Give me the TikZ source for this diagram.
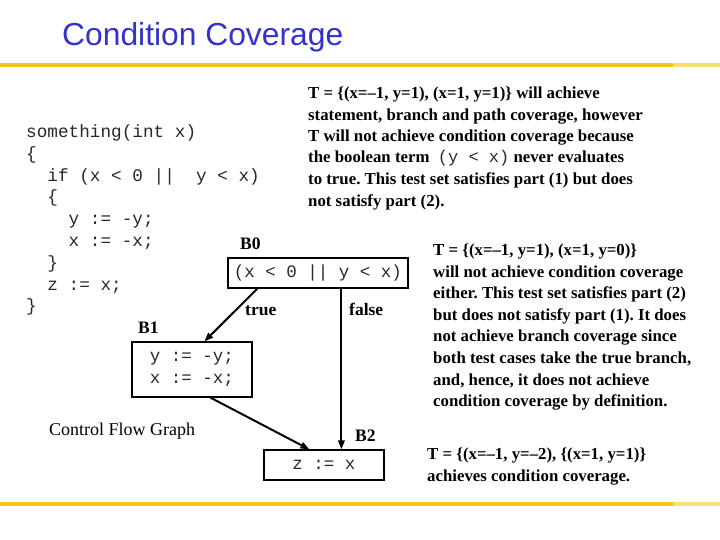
\documentclass[tikz,border=0pt]{standalone}
\usepackage{fontspec}
\setmainfont{Liberation Serif}
\newfontfamily\arialf{Liberation Sans}
\newfontfamily\monof{Liberation Mono}
\usetikzlibrary{arrows.meta}
\frenchspacing
\definecolor{titleblue}{RGB}{51,51,204}
\definecolor{gold}{RGB}{242,196,24}
\definecolor{lightgold}{RGB}{250,222,120}
\definecolor{codegray}{RGB}{40,40,40}
\tikzset{
  codeline/.style={anchor=base west, inner sep=0pt, font=\monof\fontsize{17.7}{21}\selectfont, text=codegray},
  para/.style={anchor=base west, inner sep=0pt, font=\bfseries\fontsize{16.8}{21}\selectfont},
  blabel/.style={anchor=base west, inner sep=0pt, font=\bfseries\fontsize{17.5}{21}\selectfont},
  box/.style={draw, line width=1.2pt, inner sep=0pt, font=\monof\fontsize{17.5}{22}\selectfont, text=codegray},
  flow/.style={line width=2pt, -{Triangle[length=9pt,width=6.5pt]}},
  rule/.style={line width=3.5pt}
}
\begin{document}
\begin{tikzpicture}[x=1pt,y=-1pt]
\useasboundingbox (0,0) rectangle (720,540);
% title
\node[anchor=base west, inner sep=0pt, font=\arialf\fontsize{31.8}{36}\selectfont, text=titleblue] (title) at (62,46) {Condition Coverage};
% rules
\draw[rule, gold] (0,65) -- (673,65);
\draw[rule, lightgold] (673,65) -- (720,65);
\draw[rule, gold] (0,504) -- (673,504);
\draw[rule, lightgold] (673,504) -- (720,504);
% code
\node[codeline] (c1) at (26,138) {something(int~x)};
\node[codeline] (c2) at (26,160) {\{};
\node[codeline] (c3) at (26,182) {~~if~(x~<~0~||~~y~<~x)};
\node[codeline] (c4) at (26,203) {~~\{};
\node[codeline] (c5) at (26,225) {~~~~y~:=~-y;};
\node[codeline] (c6) at (26,247) {~~~~x~:=~-x;};
\node[codeline] (c7) at (26,268) {~~\}};
\node[codeline] (c8) at (26,290) {~~z~:=~x;};
\node[codeline] (c9) at (26,311) {\}};
% boxes
\node[box, minimum width=180pt, minimum height=30pt] (b0) at (318,273) {(x~<~0~||~y~<~x)};
\node[box, minimum width=120pt, minimum height=55pt, align=left] (b1) at (192,369.5) {y~:=~-y;\\x~:=~-x;~};
\node[box, minimum width=120pt, minimum height=30pt] (b2) at (324,465) {z~:=~x};
% block labels
\node[blabel] (l0) at (240,249) {B0};
\node[blabel] (l1) at (138,333) {B1};
\node[blabel] (l2) at (355,441) {B2};
\node[blabel] (tl) at (245,315) {true};
\node[blabel] (fl) at (349,315) {false};
\node[anchor=base west, inner sep=0pt, font=\fontsize{18}{21}\selectfont] (cfg) at (49,435) {Control Flow Graph};
% connectors
\draw[flow] ([xshift=30pt]b0.south west) -- ([xshift=73pt]b1.north west);
\draw[flow] ([xshift=114pt]b0.south west) -- ([xshift=78pt]b2.north west);
\draw[flow] ([xshift=79pt]b1.south west) -- ([xshift=46pt]b2.north west);
% paragraph 1
\node[para] (p11) at (308,99) {T = \{(x=–1, y=1), (x=1, y=1)\} will achieve};
\node[para] (p12) at (308,121) {statement, branch and path coverage, however};
\node[para] (p13) at (308,142) {T will not achieve condition coverage because};
\node[para] (p14) at (308,163) {the boolean term \ {\monof\mdseries\fontsize{17}{21}\selectfont\color{codegray}(y~<~x)} never evaluates};
\node[para] (p15) at (308,185) {to true. This test set satisfies part (1) but does};
\node[para] (p16) at (308,207) {not satisfy part (2).};
% paragraph 2
\node[para] (p21) at (433,255) {T = \{(x=–1, y=1), (x=1, y=0)\}};
\node[para] (p22) at (433,277) {will not achieve condition coverage};
\node[para] (p23) at (433,298) {either. This test set satisfies part (2)};
\node[para] (p24) at (433,320) {but does not satisfy part (1). It does};
\node[para] (p25) at (433,341) {not achieve branch coverage since};
\node[para] (p26) at (433,363) {both test cases take the true branch,};
\node[para] (p27) at (433,385) {and, hence, it does not achieve};
\node[para] (p28) at (433,406) {condition coverage by definition.};
% paragraph 3
\node[para] (p31) at (427,459) {T = \{(x=–1, y=–2), \{(x=1, y=1)\}};
\node[para] (p32) at (427,481) {achieves condition coverage.};
\end{tikzpicture}
\end{document}
